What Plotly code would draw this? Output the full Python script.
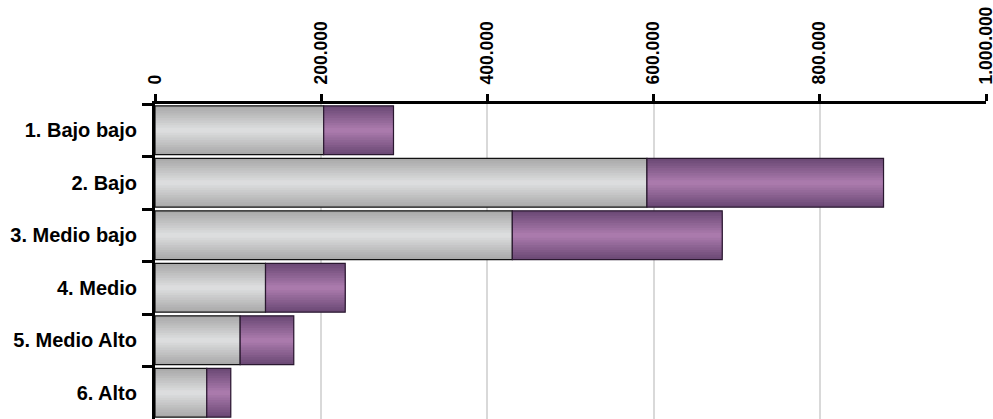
import plotly.graph_objects as go

categories = ["1. Bajo bajo", "2. Bajo", "3. Medio bajo", "4. Medio", "5. Medio Alto", "6. Alto"]
gray_values = [203000, 592000, 430000, 133000, 102500, 62300]
purple_values = [84000, 284700, 252600, 95900, 64500, 28900]
tick_vals = [0, 200000, 400000, 600000, 800000, 1000000]
tick_text = ["0", "200.000", "400.000", "600.000", "800.000", "1.000.000"]

FONT = "Liberation Sans Narrow, Arial Narrow, Liberation Sans, Arial"
BAR_W = 0.93
N_LAYERS = 10


def lerp(c1, c2, t):
    return "rgb(%d,%d,%d)" % tuple(round(a + (b - a) * t) for a, b in zip(c1, c2))


fig = go.Figure()


def add_gradient_bar(values, bases, edge, center, outline):
    for k in range(N_LAYERS):
        t = k / (N_LAYERS - 1)
        w = BAR_W * (1 - k / N_LAYERS)
        fig.add_trace(go.Bar(
            y=categories, x=values, base=bases, orientation="h",
            width=w, marker=dict(color=lerp(edge, center, t), line=dict(width=0)),
            showlegend=False, hoverinfo="skip",
        ))
    fig.add_trace(go.Bar(
        y=categories, x=values, base=bases, orientation="h",
        width=BAR_W, marker=dict(color="rgba(0,0,0,0)", line=dict(color=outline, width=1.2)),
        showlegend=False,
    ))


add_gradient_bar(gray_values, [0] * len(gray_values), (170, 170, 170), (220, 221, 222), "#111111")
add_gradient_bar(purple_values, gray_values, (108, 74, 118), (170, 122, 172), "#2a1830")

fig.update_layout(
    width=993, height=419,
    margin=dict(l=155, r=7, t=104, b=0, autoexpand=False),
    paper_bgcolor="white", plot_bgcolor="white",
    barmode="overlay",
    separators=",.",
    font=dict(family=FONT, size=20, color="black"),
    xaxis=dict(
        side="top", range=[0, 1000000], tickvals=tick_vals, ticktext=tick_text,
        tickangle=-90, ticks="outside", ticklen=7, tickwidth=3, tickcolor="black",
        showline=True, linecolor="black", linewidth=3,
        showgrid=True, gridcolor="#d9d9d9", gridwidth=2, zeroline=False,
        tickfont=dict(family=FONT, size=17.5, weight="bold"),
        ticklabelstandoff=6, ticklabeloverflow="allow", automargin=False,
    ),
    yaxis=dict(
        categoryorder="array", categoryarray=categories, autorange="reversed",
        ticks="outside", ticklen=10, tickwidth=3, tickcolor="black", tickson="boundaries",
        showline=True, linecolor="black", linewidth=3, showgrid=False,
        tickfont=dict(family=FONT, size=20, weight="bold"),
        ticklabelstandoff=11, automargin=False,
    ),
)

fig.write_html(
    "out.html",
    config={"displayModeBar": False},
    post_script="document.body.style.margin='0';document.body.style.overflow='hidden';",
)
